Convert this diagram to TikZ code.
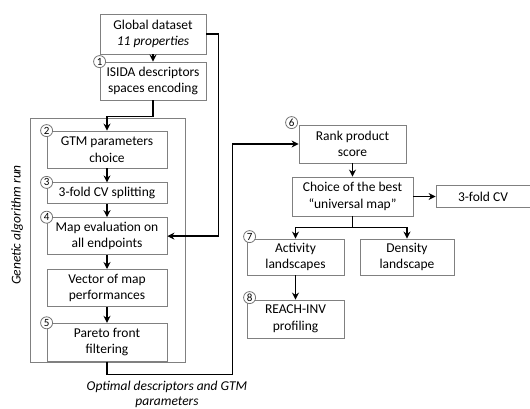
\documentclass[tikz,border=0pt]{standalone}
\usepackage{fontspec}
\setmainfont{Carlito}
\usetikzlibrary{arrows.meta,positioning,calc}
\tikzset{
  stepbox/.style={
    rectangle, draw=black!50, line width=0.8pt, fill=white,
    minimum width=120pt, minimum height=37pt, inner sep=1pt,
    align=center, font=\fontsize{13.5}{16.5}\selectfont
  },
  num/.style={circle, draw=black!55, line width=0.8pt, fill=white,
              inner sep=0pt, minimum size=12pt,
              font=\fontsize{11}{11}\selectfont},
  flow/.style={-{Stealth[length=7pt,width=7pt]}, line width=1.6pt, draw=black},
  note/.style={font=\fontsize{13.5}{15}\selectfont\itshape, align=center}
}

\begin{document}
\begin{tikzpicture}[x=1pt, y=-1pt, node distance=14pt,
    gabox/.style={rectangle, draw=black!50, line width=0.8pt,
                  minimum width=155pt, minimum height=244pt, inner sep=0pt},
    sidebox/.style={stepbox, minimum width=94pt, minimum height=22pt}
]
  \useasboundingbox (0,0) rectangle (530,409);

  % Genetic algorithm frame
  \node[gabox] (ga) at (107.5,240) {};
  \node[note, rotate=90] (galbl) at (17,225) {Genetic algorithm run};

  % Input
  \node[stepbox, minimum width=106pt, minimum height=40pt] (gds) at (153,34)
       {Global dataset\\\textit{11 properties}};
  \node[stepbox, minimum width=106pt, minimum height=38pt] (isida) at (153,81)
       {ISIDA descriptors\\spaces encoding};

  % GA column
  \node[stepbox] (gtm) at (107,149.5) {GTM parameters\\choice};
  \node[stepbox, minimum height=21pt, below=of gtm] (cv) {3-fold CV splitting};
  \node[stepbox, below=13pt of cv] (mapev) {Map evaluation on\\all endpoints};
  \node[stepbox, below=of mapev] (vec) {Vector of map\\performances};
  \node[stepbox, minimum height=38pt, below=16pt of vec] (pareto) {Pareto front\\filtering};

  % Right part
  \node[stepbox, minimum width=107pt, minimum height=38pt] (rank) at (352.5,144)
       {Rank product\\score};
  \node[stepbox, minimum width=121pt, minimum height=39pt] (best) at (352.5,196.5)
       {Choice of the best\\“universal map”};
  \node[sidebox] (cvthree) at (483,196.5) {3-fold CV};
  \node[stepbox, minimum width=97pt, minimum height=36pt] (act) at (295.5,257)
       {Activity\\landscapes};
  \node[stepbox, minimum width=94pt, minimum height=36pt] (dens) at (407,257)
       {Density\\landscape};
  \node[stepbox, minimum width=97pt, minimum height=38pt] (reach) at (295.5,319)
       {REACH-INV\\profiling};

  % Step numbers
  \node[num] (n1) at (isida.north west) {1};
  \node[num] (n2) at (gtm.north west) {2};
  \node[num] (n3) at (cv.north west) {3};
  \node[num] (n4) at (mapev.north west) {4};
  \node[num] (n5) at (pareto.north west) {5};
  \node[num] (n6) at ([shift={(-7,-2)}]rank.north west) {6};
  \node[num] (n7) at ([shift={(3,-2)}]act.north west) {7};
  \node[num] (n8) at ([shift={(3,-2)}]reach.north west) {8};

  % Arrows
  \draw[flow] (gds) -- (isida);
  \draw[flow] (isida.south) -- ++(0,16) -| (gtm.north);
  \draw[flow] (gds.east) -- ++(12,0) |- (mapev.east);
  \draw[flow] (gtm) -- (cv);
  \draw[flow] (cv) -- (mapev);
  \draw[flow] (mapev) -- (vec);
  \draw[flow] (vec) -- (pareto);
  \draw[flow] (pareto.south) -- ++(0,13) -| ([xshift=-66pt]rank.west) -- (rank.west);
  \draw[flow] (rank) -- (best);
  \draw[flow] (best) -- (cvthree);
  \draw[flow] (best.south) -- ++(0,11) -| (act.north);
  \draw[flow] (best.south) -- ++(0,11) -| (dens.north);
  \draw[flow] (act) -- (reach);

  % Output label
  \node[note] (optlbl) at (167,394) {Optimal descriptors and GTM\\parameters};
\end{tikzpicture}
\end{document}
